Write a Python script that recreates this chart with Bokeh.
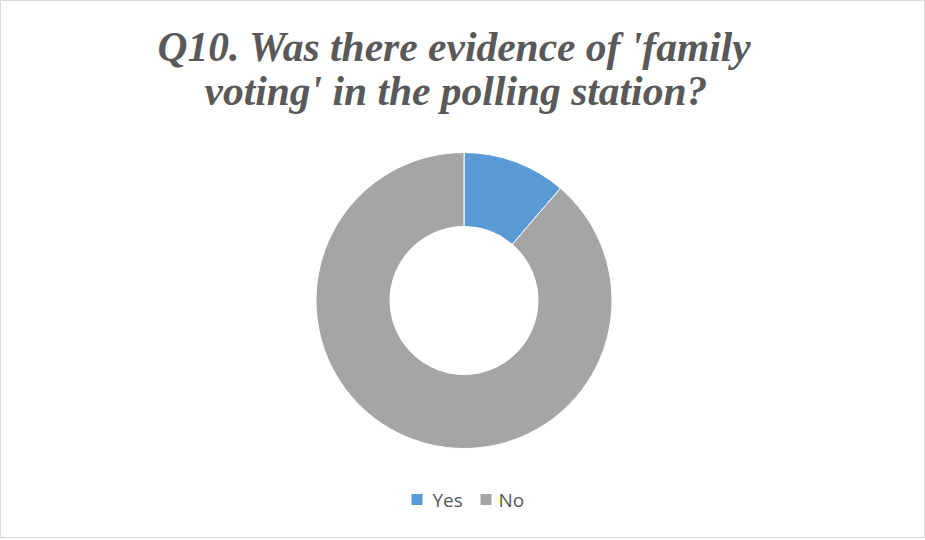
import math
from bokeh.plotting import figure
from bokeh.models import Range1d, ColumnDataSource, Label
from bokeh.core.properties import value
from bokeh.embed import file_html
from bokeh.resources import INLINE

# --- data ---
categories = ["Yes", "No"]
shares = [11.3, 88.7]
colors = ["#5B9BD5", "#A5A5A5"]
title_lines = ["Q10. Was there evidence of 'family", "voting' in the polling station?"]

W, H = 925, 538
p = figure(width=W, height=H, output_backend="svg", toolbar_location=None,
           x_range=Range1d(0, W), y_range=Range1d(0, H), min_border=0,
           outline_line_color="#D9D9D9")
p.axis.visible = False
p.grid.visible = False

def Y(y_abs):
    return H - y_abs

# donut
cx, cy = 463.5, Y(300)
r_out, r_in = 148, 74
total = sum(shares)
starts, ends = [], []
acc = 0.0
for s in shares:
    a0 = math.pi / 2 - 2 * math.pi * acc / total
    acc += s
    a1 = math.pi / 2 - 2 * math.pi * acc / total
    starts.append(a0)
    ends.append(a1)
src = ColumnDataSource(dict(cat=categories, start=starts, end=ends, color=colors))
p.annular_wedge(x=cx, y=cy, inner_radius=r_in, outer_radius=r_out,
                start_angle="start", end_angle="end", direction="clock",
                fill_color="color", line_color="white", line_width=1, source=src)

# legend
sq_x = [416.5, 485.5]
txt_x = [432, 498]
ly = Y(499)
p.rect(x=sq_x, y=[ly, ly], width=11, height=11, fill_color=colors, line_color=None)
for cat, tx in zip(categories, txt_x):
    p.text(x=[tx], y=[ly], text=[cat], text_align="left", text_baseline="middle",
           text_font=value("Open Sans"), text_font_size="19px", text_color="#595959")

# title as label annotations
title_left = [157, 204]
title_bottoms = [69, 113]
for line, xl, yb in zip(title_lines, title_left, title_bottoms):
    p.add_layout(Label(x=xl, y=Y(yb), text=line, text_font="Liberation Serif",
                       text_font_style="bold italic", text_font_size="41.5px",
                       text_color="#595959"))

open("out.html", "w").write(file_html(p, INLINE))
